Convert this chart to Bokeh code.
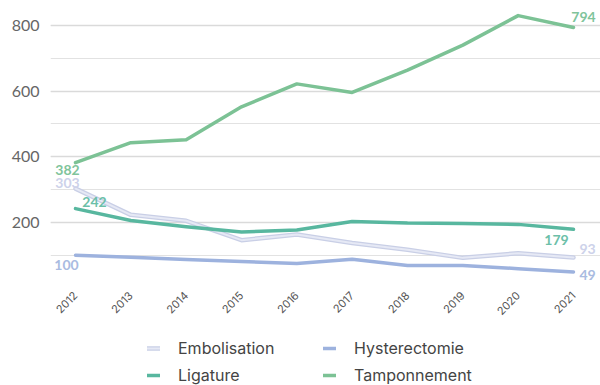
import math
from bokeh.plotting import figure
from bokeh.layouts import column
from bokeh.models import (ColumnDataSource, Legend, LegendItem, FixedTicker,
                          SingleIntervalTicker, Range1d)
from bokeh.core.properties import value
from bokeh.embed import file_html
from bokeh.resources import INLINE

years = [2012, 2013, 2014, 2015, 2016, 2017, 2018, 2019, 2020, 2021]
embolisation = [303, 223, 205, 146, 163, 137, 117, 92, 106, 93]
hysterectomie = [100, 94, 87, 81, 75, 88, 69, 69, 59, 49]
ligature = [242, 206, 187, 171, 177, 203, 198, 197, 194, 179]
tamponnement = [382, 443, 452, 552, 622, 596, 664, 740, 830, 794]
names = ["Embolisation", "Ligature", "Hysterectomie", "Tamponnement"]

c_emb_in = "#e6e9f5"
c_emb_out = "#c9cfe6"
c_hys = "#9db2de"
c_lig = "#58b79f"
c_tam = "#7cc295"

p = figure(width=600, height=330, output_backend="svg", toolbar_location=None,
           x_range=Range1d(2011.548, 2021.488), y_range=Range1d(20, 876),
           min_border_left=50, min_border_right=0, min_border_top=0,
           min_border_bottom=49)
p.outline_line_color = None
p.background_fill_color = "white"
p.border_fill_color = "white"

# axes
p.xaxis.ticker = FixedTicker(ticks=years)
p.xaxis.major_label_orientation = math.pi / 4
p.xaxis.major_label_text_font = "Inter"
p.xaxis.major_label_text_font_size = "11px"
p.xaxis.major_label_text_color = "#555555"
p.xaxis.axis_line_color = None
p.xaxis.major_tick_line_color = None
p.xaxis.minor_tick_line_color = None
p.xaxis.major_label_standoff = 6

p.yaxis.ticker = SingleIntervalTicker(interval=200, num_minor_ticks=2)
p.yaxis.major_label_text_font = "Lato"
p.yaxis.major_label_text_font_size = "16px"
p.yaxis.major_label_text_color = "#666666"
p.yaxis.axis_line_color = None
p.yaxis.major_tick_line_color = None
p.yaxis.minor_tick_line_color = None
p.yaxis.major_label_standoff = 5

p.xgrid.grid_line_color = None
p.ygrid.grid_line_color = "#dadada"
p.ygrid.grid_line_width = 1.5
p.ygrid.minor_grid_line_color = "#e2e2e2"
p.ygrid.minor_grid_line_width = 1


def draw_series(fig):
    ro = fig.line(years, embolisation, line_color=c_emb_out, line_width=4.5,
                  line_join="round", line_cap="round")
    ri = fig.line(years, embolisation, line_color=c_emb_in, line_width=2,
                  line_join="round", line_cap="round")
    rh = fig.line(years, hysterectomie, line_color=c_hys, line_width=3.5,
                  line_join="round", line_cap="round")
    rl = fig.line(years, ligature, line_color=c_lig, line_width=3.5,
                  line_join="round", line_cap="round")
    rt = fig.line(years, tamponnement, line_color=c_tam, line_width=3.5,
                  line_join="round", line_cap="round")
    return ro, ri, rh, rl, rt


draw_series(p)

# end labels
series = [tamponnement, embolisation, ligature, hysterectomie]
lab_colors = ["#80c49b", "#cdd2ea", "#6cbfa9", "#a9bbe1"]
first_off = [(-8, 7), (-8, -6), (19, -7), (-9, 10)]
last_off = [(10, -10), (14, -9), (-17, 11), (14, 3)]
lx, ly, lt, lc, lxo, lyo = [], [], [], [], [], []
for s, col, fo, lo in zip(series, lab_colors, first_off, last_off):
    for idx, off in ((0, fo), (-1, lo)):
        lx.append(years[idx]); ly.append(s[idx]); lt.append(str(s[idx]))
        lc.append(col); lxo.append(off[0]); lyo.append(off[1])
src = ColumnDataSource(dict(x=lx, y=ly, text=lt, color=lc, xo=lxo, yo=lyo))
p.text(x="x", y="y", text="text", source=src, text_color="color",
       x_offset="xo", y_offset="yo", text_font=value("Lato"),
       text_font_style="bold", text_font_size="14px", text_align="center",
       text_baseline="middle")

# legend strip (series drawn out of view, used only as legend glyphs)
p2 = figure(width=600, height=55, output_backend="svg", toolbar_location=None,
            x_range=Range1d(0, 1), y_range=Range1d(0, 1),
            x_axis_type=None, y_axis_type=None,
            min_border_left=0, min_border_right=0, min_border_top=0,
            min_border_bottom=0)
p2.outline_line_color = None
p2.xgrid.visible = False
p2.ygrid.visible = False
ro, ri, rh, rl, rt = draw_series(p2)

legend = Legend(items=[
    LegendItem(label=names[0], renderers=[ro, ri]),
    LegendItem(label=names[1], renderers=[rl]),
    LegendItem(label=names[2], renderers=[rh]),
    LegendItem(label=names[3], renderers=[rt]),
], ncols=2, location=(97, 0))
legend.label_text_font = "Inter"
legend.label_text_font_size = "16px"
legend.label_text_color = "#444444"
legend.glyph_width = 13
legend.glyph_height = 20
legend.label_height = 20
legend.label_standoff = 18
legend.label_width = 138
legend.spacing = 7
legend.padding = 0
legend.margin = 0
legend.border_line_color = None
legend.background_fill_alpha = 0
p2.add_layout(legend, "center")

open("out.html", "w").write(file_html(column(p, p2, spacing=0), INLINE))
